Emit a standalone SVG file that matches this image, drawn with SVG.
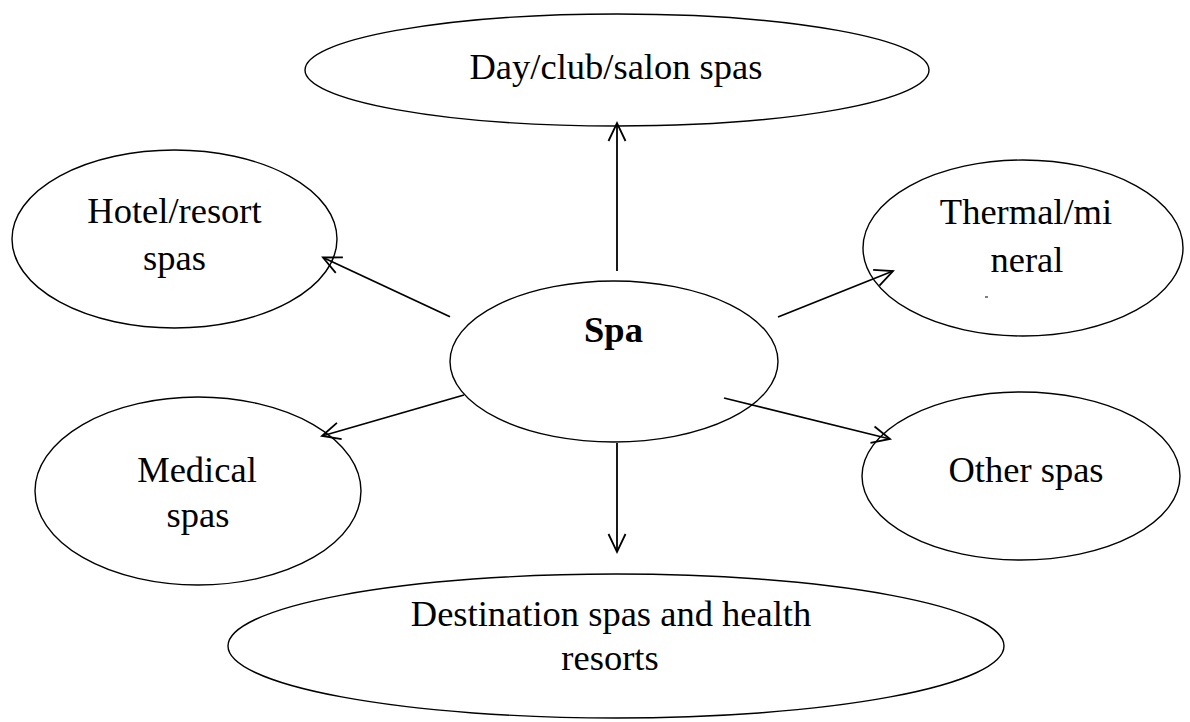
<svg xmlns="http://www.w3.org/2000/svg" width="1190" height="722" viewBox="0 0 1190 722">
<style>
.n{fill:#fff;stroke:#000;stroke-width:1.4}
.t{font-family:"Liberation Serif","Times New Roman",serif;font-size:36.5px;fill:#000;text-anchor:middle}
.b{font-weight:bold}
.c{stroke:#000;stroke-width:1.8;fill:none;marker-end:url(#ah)}
</style>
<defs>
<marker id="ah" markerUnits="userSpaceOnUse" markerWidth="24" markerHeight="24" viewBox="-20 -12 24 24" refX="0" refY="0" orient="auto">
<path d="M-18,-8.5 L0,0 L-18,8.5" fill="none" stroke="#000" stroke-width="1.8"/>
</marker>
</defs>
<rect width="1190" height="722" fill="#fff"/>
<g id="day-spas"><ellipse class="n" cx="617" cy="70" rx="312" ry="56"/><text class="t" x="616" y="79">Day/club/salon spas</text></g>
<g id="hotel-spas"><ellipse class="n" cx="174.5" cy="239" rx="162.5" ry="89"/><text class="t" x="174.5" y="223">Hotel/resort</text><text class="t" x="174.5" y="270">spas</text></g>
<g id="thermal-spas"><ellipse class="n" cx="1023" cy="248" rx="160" ry="88"/><text class="t" x="1026" y="224">Thermal/mi</text><text class="t" x="1027" y="272">neral</text><line x1="985" y1="297" x2="988" y2="297" stroke="#000" stroke-width="1"/></g>
<g id="spa"><ellipse class="n" cx="614" cy="361.5" rx="164" ry="80.5"/><text class="t b" x="613.5" y="342">Spa</text></g>
<g id="medical-spas"><ellipse class="n" cx="198" cy="491" rx="163" ry="94"/><text class="t" x="197" y="482">Medical</text><text class="t" x="198" y="527">spas</text></g>
<g id="other-spas"><ellipse class="n" cx="1021" cy="476" rx="159" ry="84"/><text class="t" x="1026" y="482">Other spas</text></g>
<g id="destination-spas"><ellipse class="n" cx="616" cy="646" rx="388" ry="72"/><text class="t" x="611" y="626">Destination spas and health</text><text class="t" x="610" y="670">resorts</text></g>
<g id="connectors">
<line class="c" x1="617" y1="271" x2="617" y2="123"/>
<line class="c" x1="450" y1="316.7" x2="323" y2="257.5"/>
<line class="c" x1="778" y1="317" x2="893" y2="271"/>
<line class="c" x1="464" y1="395" x2="322" y2="436"/>
<line class="c" x1="724" y1="398" x2="890" y2="439"/>
<line class="c" x1="617" y1="443" x2="617" y2="552"/>
</g>
</svg>
